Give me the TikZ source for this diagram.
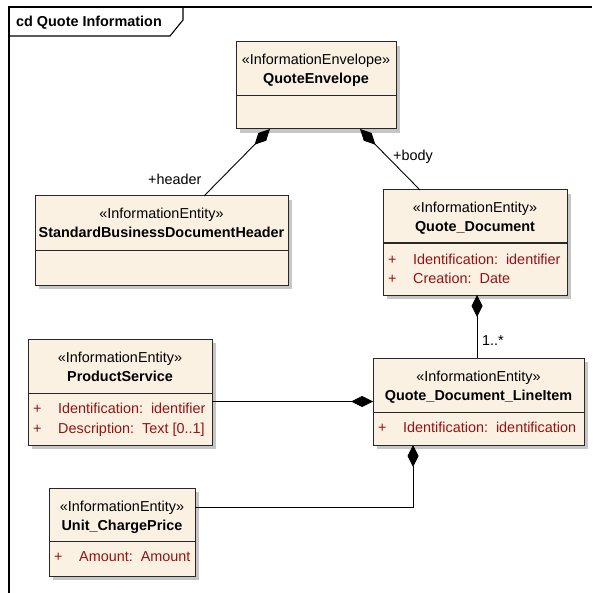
\documentclass[tikz,border=0pt]{standalone}
\usepackage{fontspec}
\setmainfont{Liberation Sans}
\usetikzlibrary{arrows.meta}

\definecolor{classfill}{RGB}{251,241,227}
\definecolor{attrred}{RGB}{150,18,18}
\definecolor{shadowgray}{RGB}{198,198,198}
\definecolor{edgegray}{RGB}{40,40,40}

\tikzset{
  umlbox/.style={draw=edgegray, line width=1pt, fill=classfill, anchor=north west,
                 inner sep=0pt, outer sep=0pt},
  divider/.style={draw=edgegray, line width=1pt},
  txt/.style={inner sep=0pt, anchor=base, font=\fontsize{14.4}{16}\selectfont},
  stereo/.style={txt},
  cname/.style={txt, font=\fontsize{14.4}{16}\selectfont\bfseries},
  attr/.style={txt, anchor=base west, text=attrred},
  rolelabel/.style={txt, anchor=base west},
  frameline/.style={draw=black, line width=1.1pt},
  comp/.style={line width=0.9pt, {Diamond[length=22pt,width=11pt]}-},
  link/.style={line width=0.9pt}
}

% #1 name, #2 x, #3 y (top-left), #4 width, #5 height, #6 divider offset
\newcommand\classbox[6]{%
  \fill[shadowgray] (#2+4,#3+4) rectangle ++(#4,#5);
  \node[umlbox, minimum width=#4pt, minimum height=#5pt] (#1) at (#2,#3) {};
  \draw[divider] ([yshift=-#6pt]#1.north west) -- ([yshift=-#6pt]#1.north east);
}
% #1 box name, #2 stereotype, #3 class name
\newcommand\classhead[3]{%
  \node[stereo] (#1-st) at ([yshift=-23pt]#1.north) {«#2»};
  \node[cname] (#1-nm) at ([yshift=-42pt]#1.north) {#3};
}
% #1 box name, #2 line tag, #3 baseline offset from top, #4 attribute text
\newcommand\classattr[4]{%
  \node[attr] (#1-#2) at ([xshift=5pt,yshift=-#3pt]#1.north west)
    {\makebox[25pt][l]{+}#4};
}

\begin{document}
\begin{tikzpicture}[x=1pt,y=-1pt]
\useasboundingbox (0,0) rectangle (592,593);

% diagram frame with its name tab
\draw[frameline] (9,593) -- (9,7) -- (592,7);
\draw[frameline] (9,36) -- (170,36) -- (183,20) -- (183,7);
\node[txt, anchor=base west, font=\fontsize{14.4}{16}\selectfont\bfseries] (title) at (16,27) {cd Quote Information};

% classes
\classbox{env}{236}{42}{160}{87}{54}
\classhead{env}{InformationEnvelope}{QuoteEnvelope}

\classbox{sbdh}{35}{196}{253}{89}{54}
\classhead{sbdh}{InformationEntity}{StandardBusinessDocumentHeader}

\classbox{qdoc}{383}{190}{184}{105}{53}
\classhead{qdoc}{InformationEntity}{Quote\_Document}
\classattr{qdoc}{a1}{74}{Identification:~~identifier}
\classattr{qdoc}{a2}{93}{Creation:~~Date}

\classbox{ps}{28}{339}{184}{106}{54}
\classhead{ps}{InformationEntity}{ProductService}
\classattr{ps}{a1}{74}{Identification:~~identifier}
\classattr{ps}{a2}{94}{Description:~~Text [0..1]}

\classbox{li}{373}{358}{211}{87}{54}
\classhead{li}{InformationEntity}{Quote\_Document\_LineItem}
\classattr{li}{a1}{74}{Identification:~~identification}

\classbox{ucp}{49}{488}{146}{88}{53}
\classhead{ucp}{InformationEntity}{Unit\_ChargePrice}
\classattr{ucp}{a1}{73}{Amount:~~Amount}

% composition links
\draw[comp] ([xshift=34pt]env.south west) -- ([xshift=169pt]sbdh.north west);
\draw[comp] ([xshift=124pt]env.south west) -- ([xshift=37pt]qdoc.north west);
\draw[comp] ([xshift=94pt]qdoc.south west) -- ([xshift=94pt]qdoc.south west |- li.north);
\draw[comp] (li.west) -- (ps.east |- li.west);
\draw[comp] ([xshift=40pt]li.south west) |- ([yshift=-19pt]ucp.north east);

% role and multiplicity labels
\node[rolelabel] (lbl-header) at (148,185) {+header};
\node[rolelabel] (lbl-body) at (393,161) {+body};
\node[rolelabel] (lbl-mult) at (482,345) {1..*};
\end{tikzpicture}
\end{document}
